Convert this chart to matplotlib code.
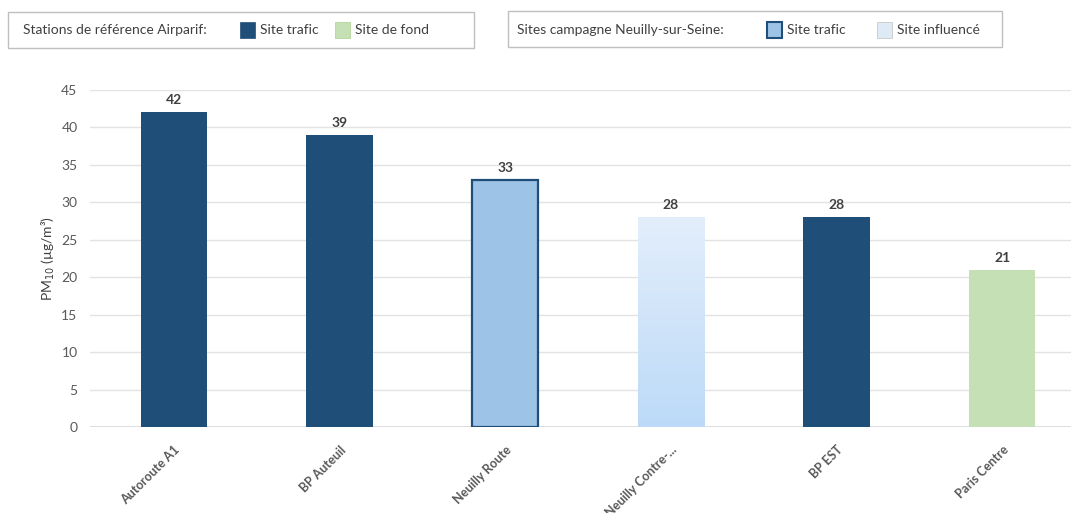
import numpy as np
import matplotlib
matplotlib.use("Agg")
import matplotlib.pyplot as plt
from matplotlib.patches import Rectangle

# PM10 annual means per station (µg/m³)
stations = ["Autoroute A1", "BP Auteuil", "Neuilly Route", "Neuilly Contre-...", "BP EST", "Paris Centre"]
pm10 = [42, 39, 33, 28, 28, 21]
site_kind = ["ref_trafic", "ref_trafic", "camp_trafic", "camp_influence", "ref_trafic", "ref_fond"]

DARK_BLUE = "#1f4e79"
GREEN = "#c5e0b4"
MID_BLUE = "#9dc3e6"
GRAD_TOP = "#e3eefb"
GRAD_BOT = "#bcdaf8"
TEXT = "#404040"
TICK = "#595959"

plt.rcParams["font.family"] = ["Lato", "DejaVu Sans"]

W, H = 1071, 513
fig = plt.figure(figsize=(W / 100, H / 100), dpi=100)
fig.patch.set_facecolor("white")


def px(x0, y0, x1, y1):
    # figure-fraction rectangle from pixel box (origin top-left)
    return [x0 / W, 1 - y1 / H, (x1 - x0) / W, (y1 - y0) / H]


ax = fig.add_axes(px(90, 90, 1071, 427))

x = np.arange(len(stations))
bar_w = 0.4

for i, (v, kind) in enumerate(zip(pm10, site_kind)):
    if kind == "ref_trafic":
        ax.bar(x[i], v, bar_w, color=DARK_BLUE, zorder=3)
    elif kind == "ref_fond":
        ax.bar(x[i], v, bar_w, color=GREEN, zorder=3)
    elif kind == "camp_trafic":
        ax.bar(x[i], v, bar_w, color=MID_BLUE, edgecolor=DARK_BLUE, linewidth=1.6, zorder=3)
    else:
        b = ax.bar(x[i], v, bar_w, color="none", zorder=3)[0]
        grad = np.linspace(0, 1, 256).reshape(-1, 1)
        cmap = matplotlib.colors.LinearSegmentedColormap.from_list("g", [GRAD_TOP, GRAD_BOT])
        im = ax.imshow(grad, cmap=cmap, aspect="auto", origin="upper",
                       extent=[x[i] - bar_w / 2, x[i] + bar_w / 2, 0, v], zorder=2.9)
        im.set_clip_path(b)
    ax.text(x[i], v + 0.8, f"{v}", ha="center", va="bottom",
            fontsize=10, fontweight="bold", color=TEXT)

ax.set_xlim(-0.506, 5.416)
ax.set_ylim(0, 45)
ax.set_yticks(range(0, 46, 5))
ax.yaxis.grid(True, color="#e3e3e3", linewidth=1, zorder=0)
ax.set_axisbelow(True)
for s in ax.spines.values():
    s.set_visible(False)
ax.axhline(0, color="#d9d9d9", linewidth=1.2, zorder=1)
ax.tick_params(axis="y", length=0, pad=9, labelsize=10, labelcolor=TICK)
ax.tick_params(axis="x", length=0, pad=12)
ax.set_xticks(x)
ax.set_xticklabels(stations, rotation=45, ha="right", va="top", rotation_mode="anchor",
                   fontsize=9, fontweight="bold", color=TICK)
for lbl in ax.get_xticklabels():
    lbl.set_x(lbl.get_position()[0] + 0.02)
ax.set_ylabel("PM$_{10}$ (µg/m³)", fontsize=10, color=TEXT, labelpad=3)

# legend boxes drawn at the top
def legend_box(box, title, title_x, items):
    fig.patches.append(Rectangle((box[0], box[1]), box[2], box[3], transform=fig.transFigure,
                                 facecolor="white", edgecolor="#bfbfbf", linewidth=1))
    yc = 1 - 30 / H
    fig.text(title_x / W, yc, title, fontsize=10, color=TEXT, va="center")
    for sx, face, edge, lw, label in items:
        fig.patches.append(Rectangle((sx / W, yc - 8 / H), 15 / W, 16 / H, transform=fig.transFigure,
                                     facecolor=face, edgecolor=edge, linewidth=lw))
        fig.text((sx + 20) / W, yc, label, fontsize=10, color=TEXT, va="center")


legend_box(px(8, 12, 474, 48), "Stations de référence Airparif:", 23,
           [(240, DARK_BLUE, DARK_BLUE, 0.5, "Site trafic"),
            (335, GREEN, "#a9d18e", 0.5, "Site de fond")])
legend_box(px(508, 11, 1002, 47), "Sites campagne Neuilly-sur-Seine:", 517,
           [(767, MID_BLUE, DARK_BLUE, 1.5, "Site trafic"),
            (877, "#deebf7", "#bfbfbf", 0.5, "Site influencé")])

fig.savefig("out.png", dpi=100)
